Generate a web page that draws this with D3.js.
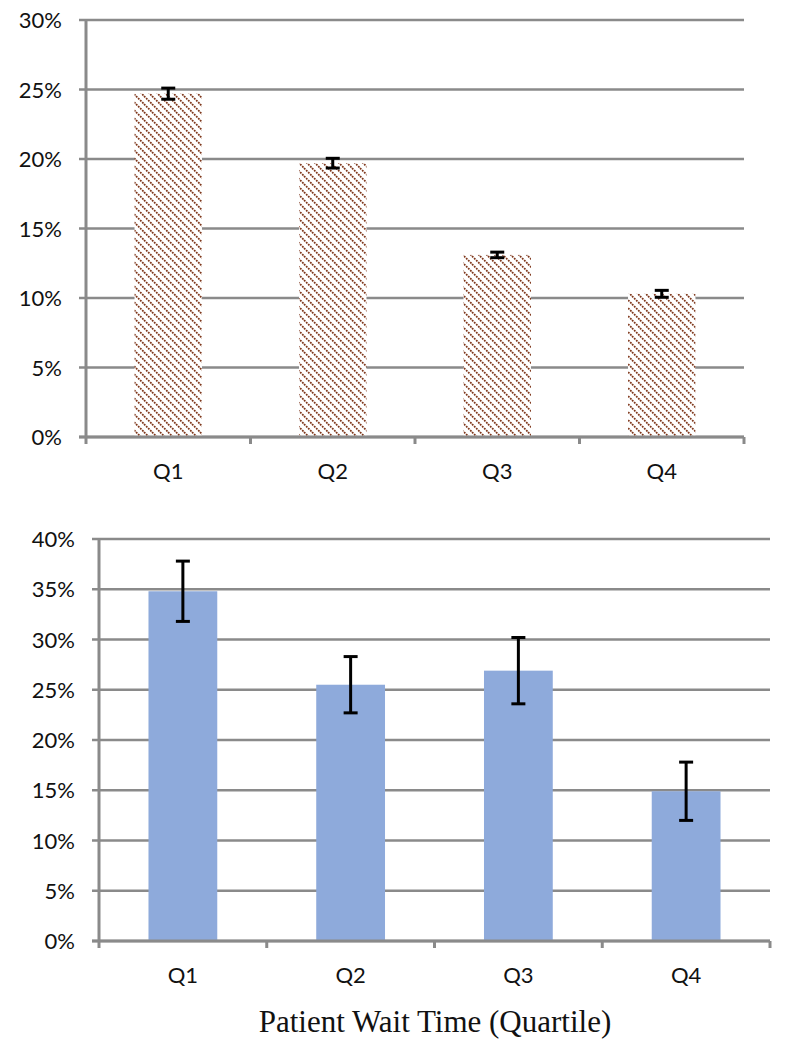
<!DOCTYPE html>
<html>
<head>
<meta charset="utf-8">
<script src="https://cdn.jsdelivr.net/npm/d3@7"></script>
<style>
  body { margin: 0; background: #fff; }
</style>
</head>
<body>
<script>
var width  = 797,
    height = 1050;

// data (percent)
var quartiles = ["Q1", "Q2", "Q3", "Q4"];
var topValues = [24.7, 19.7, 13.1, 10.3];
var topErrors = [0.4, 0.35, 0.2, 0.25];
var bottomValues = [34.8, 25.5, 26.9, 14.9];
var bottomErrors = [3.0, 2.8, 3.3, 2.9];
var topTicks = [0, 5, 10, 15, 20, 25, 30];
var bottomTicks = [0, 5, 10, 15, 20, 25, 30, 35, 40];

var sansFont = "Lato, 'Open Sans', sans-serif";

var svg = d3.select("body").append("svg")
    .attr("width", width)
    .attr("height", height);

// hatch pattern for the top bars (white background, dotted diagonals)
var defs = svg.append("defs");
var pat = defs.append("pattern")
    .attr("id", "hatch")
    .attr("patternUnits", "userSpaceOnUse")
    .attr("width", 8)
    .attr("height", 8);
pat.append("rect")
    .attr("width", 8)
    .attr("height", 8)
    .attr("fill", "#fff");
pat.append("path")
    .attr("d", "M-2,-2 L10,10 M-2,6 L2,10 M6,-2 L10,2")
    .attr("stroke", "#7e3519")
    .attr("stroke-width", 1.7)
    .attr("stroke-dasharray", "1.8,1.1");

var drawChart = function(opt) {
  var g = svg.append("g");

  var x = d3.scaleBand()
      .domain(quartiles)
      .range([opt.left, opt.right])
      .paddingInner(0.59)
      .paddingOuter(0.295);

  var y = d3.scaleLinear()
      .domain([0, opt.max])
      .range([opt.bottom, opt.top]);

  // horizontal gridlines (incl. tick stubs to the left)
  g.selectAll(".grid")
    .data(opt.ticks)
    .enter().append("line")
    .attr("x1", opt.left - 7)
    .attr("x2", opt.right)
    .attr("y1", function(d) { return y(d); })
    .attr("y2", function(d) { return y(d); })
    .attr("stroke", "#8a8a8a")
    .attr("stroke-width", 2.5);

  // y tick labels
  g.selectAll(".ylab")
    .data(opt.ticks)
    .enter().append("text")
    .attr("x", opt.left - 24)
    .attr("y", function(d) { return y(d) + 8; })
    .attr("text-anchor", "end")
    .style("font-family", sansFont)
    .style("font-size", "22px")
    .attr("fill", "#111")
    .text(function(d) { return d + "%"; });

  // bars
  g.selectAll(".bar")
    .data(opt.values)
    .enter().append("rect")
    .attr("x", function(d, i) { return x(quartiles[i]); })
    .attr("width", x.bandwidth())
    .attr("y", function(d) { return y(d); })
    .attr("height", function(d) { return y(0) - y(d); })
    .attr("fill", opt.fill);

  // y axis line
  g.append("line")
    .attr("x1", opt.left).attr("x2", opt.left)
    .attr("y1", opt.top).attr("y2", opt.bottom)
    .attr("stroke", "#8a8a8a")
    .attr("stroke-width", 3);

  // x axis line + ticks at band edges
  g.append("line")
    .attr("x1", opt.left - 7).attr("x2", opt.right)
    .attr("y1", opt.bottom).attr("y2", opt.bottom)
    .attr("stroke", "#8a8a8a")
    .attr("stroke-width", 3);

  var step = (opt.right - opt.left) / quartiles.length;
  g.selectAll(".xtick")
    .data(d3.range(quartiles.length + 1))
    .enter().append("line")
    .attr("x1", function(d) { return opt.left + d * step; })
    .attr("x2", function(d) { return opt.left + d * step; })
    .attr("y1", opt.bottom)
    .attr("y2", opt.bottom + 7)
    .attr("stroke", "#8a8a8a")
    .attr("stroke-width", 3);

  // x labels
  g.selectAll(".xlab")
    .data(quartiles)
    .enter().append("text")
    .attr("x", function(d) { return x(d) + x.bandwidth() / 2; })
    .attr("y", opt.bottom + 42)
    .attr("text-anchor", "middle")
    .style("font-family", sansFont)
    .style("font-size", "22px")
    .attr("fill", "#111")
    .text(function(d) { return d; });

  // error bars
  var eb = g.selectAll(".err")
    .data(opt.values)
    .enter().append("g")
    .attr("stroke", "#000")
    .attr("stroke-width", 3);
  var cx = function(i) { return x(quartiles[i]) + x.bandwidth() / 2; };
  eb.append("line")
    .attr("x1", function(d, i) { return cx(i); })
    .attr("x2", function(d, i) { return cx(i); })
    .attr("y1", function(d, i) { return y(d + opt.errors[i]); })
    .attr("y2", function(d, i) { return y(d - opt.errors[i]); });
  eb.append("line")
    .attr("x1", function(d, i) { return cx(i) - 7; })
    .attr("x2", function(d, i) { return cx(i) + 7; })
    .attr("y1", function(d, i) { return y(d + opt.errors[i]); })
    .attr("y2", function(d, i) { return y(d + opt.errors[i]); });
  eb.append("line")
    .attr("x1", function(d, i) { return cx(i) - 7; })
    .attr("x2", function(d, i) { return cx(i) + 7; })
    .attr("y1", function(d, i) { return y(d - opt.errors[i]); })
    .attr("y2", function(d, i) { return y(d - opt.errors[i]); });
};

drawChart({
  left: 86, right: 744, top: 20, bottom: 437,
  max: 30, ticks: topTicks,
  values: topValues, errors: topErrors,
  fill: "url(#hatch)"
});

drawChart({
  left: 99, right: 770, top: 539, bottom: 941,
  max: 40, ticks: bottomTicks,
  values: bottomValues, errors: bottomErrors,
  fill: "#8eaadb"
});

svg.append("text")
  .attr("x", 435)
  .attr("y", 1032)
  .attr("text-anchor", "middle")
  .style("font-family", "'Liberation Serif', 'Times New Roman', serif")
  .style("font-size", "31px")
  .attr("fill", "#111")
  .text("Patient Wait Time (Quartile)");
</script>
</body>
</html>
